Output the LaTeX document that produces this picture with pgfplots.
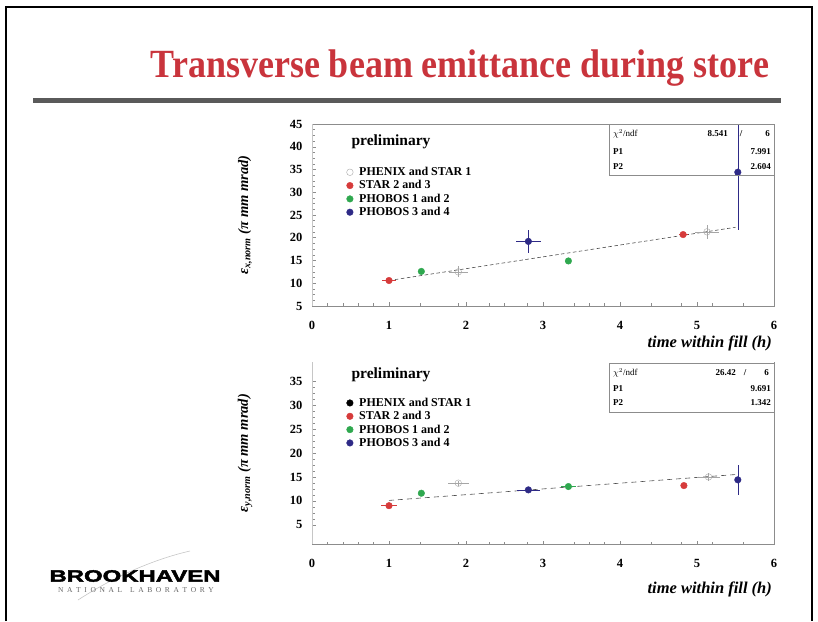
\documentclass[border=0pt]{standalone}
\usepackage{fontspec}
\setmainfont{Liberation Serif}
\newfontfamily\logofont[FakeBold=2.2]{Liberation Sans}
\usepackage{pgfplots}
\pgfplotsset{compat=1.18}

\definecolor{titlered}{HTML}{C9343C}
\definecolor{ptred}{HTML}{D63B3B}
\definecolor{ptgreen}{HTML}{2FA84F}
\definecolor{ptblue}{HTML}{2E2A86}
\definecolor{rulegray}{HTML}{5A5A5A}
\definecolor{framegray}{HTML}{8C8C8C}

\pgfplotsset{
  emitt/.style={
    scale only axis, width=462pt, height=182pt,
    xmin=0, xmax=6,
    xtick={0,...,6},
    minor xtick={0.2,0.4,0.6,0.8,1.4,1.9,2.3,2.5,2.8,3.4,3.6,3.8,4.4,4.8,5.2,5.6},
    minor y tick num=3,
    axis line style={draw=none},
    tick pos=left,
    tick align=inside,
    major tick length=3.5pt, minor tick length=2.5pt,
    tick style={framegray, line width=0.5pt},
    /pgf/number format/assume math mode=true,
    ticklabel style={font=\bfseries\fontsize{12.5}{12.5}\selectfont},
    xticklabel style={yshift=-12pt},
    yticklabel style={xshift=-6pt},
    xlabel={\bfseries\itshape time within fill (h)},
    xlabel style={font=\fontsize{16.5}{16.5}\selectfont, anchor=east},
    ylabel style={font=\fontsize{14.5}{14.5}\selectfont,
      at={(axis description cs:-0.145,0.5)}, anchor=center},
    legend cell align=left,
    legend style={draw=none, fill=none, anchor=north west,
      font=\bfseries\fontsize{12}{13.5}\selectfont, row sep=-0.5pt,
      /tikz/every odd column/.append style={column sep=4pt}},
  },
  errpts/.style={
    only marks, mark=*, mark size=3.3pt, color=#1,
    mark options={fill=#1, draw=#1},
    error bars/x dir=both, error bars/x explicit,
    error bars/y dir=both, error bars/y explicit,
    error bars/error mark=none,
    error bars/error bar style={#1, line width=0.6pt},
  },
  fitline/.style={dash pattern=on 3.5pt off 2.5pt, black!70, line width=0.6pt, forget plot},
}

\begin{document}
\begin{tikzpicture}[x=1pt,y=1pt]
\useasboundingbox (0,0) rectangle (818,621);

% slide frame, title and rule
\draw[black, line width=1.5pt] (6,0) -- (6,614) -- (812,614) -- (812,0);
\node[text=titlered, font=\bfseries\fontsize{40}{40}\selectfont, xscale=0.9]
  at (460,553) {Transverse beam emittance during store};
\draw[rulegray, line width=5pt] (33,520) -- (781,520);

% ---------------- horizontal emittance ----------------
\begin{axis}[emitt, name=top, at={(312pt,315pt)}, anchor=south west,
  ymin=5, ymax=45, ytick={5,10,...,45},
  ylabel={\bfseries\itshape ε\textsubscript{x,norm} (π mm mrad)},
  xlabel style={at={(axis description cs:1.003,-0.205)}},
  legend style={at={(axis description cs:0.068,0.785)}}]
\addplot[fitline] coordinates {(1.0,10.6) (5.5,22.3)};
\addplot[errpts=gray!70, mark=o, mark options={draw=gray!70, fill=white}]
  table[x=x, y=y, x error=ex, y error=ey] {
x    y    ex   ey
1.90 12.5 0.12 1.2
5.13 21.3 0.15 1.5
};
\addlegendentry{PHENIX and STAR 1}
\addplot[errpts=ptred] table[x=x, y=y, x error=ex, y error=ey] {
x    y    ex   ey
1.00 10.6 0.09 0.3
4.82 20.7 0.06 0.4
};
\addlegendentry{STAR 2 and 3}
\addplot[errpts=ptgreen] table[x=x, y=y, x error=ex, y error=ey] {
x    y    ex   ey
1.42 12.6 0.04 0.6
3.33 14.9 0.04 0.6
};
\addlegendentry{PHOBOS 1 and 2}
\addplot[errpts=ptblue] table[x=x, y=y, x error=ex, y error=ey] {
x    y    ex   ey
2.81 19.2 0.16 2.6
5.53 34.4 0.04 12.6
};
\addlegendentry{PHOBOS 3 and 4}
\end{axis}
\draw[framegray, line width=0.8pt] (top.south west) -- (top.south east) -- (top.north east) -- (top.north west);
\draw[framegray!50, line width=0.5pt] (top.south west) -- (top.north west);

% ---------------- vertical emittance ----------------
\begin{axis}[emitt, name=bot, at={(312pt,77pt)}, anchor=south west,
  ymin=1, ymax=39, ytick={5,10,...,35},
  ylabel={\bfseries\itshape ε\textsubscript{y,norm} (π mm mrad)},
  xlabel style={at={(axis description cs:1.003,-0.25)}},
  legend style={at={(axis description cs:0.068,0.825)}}]
\addplot[fitline, dash pattern=on 5pt off 4pt] coordinates
  {(1.0,10.1) (2.0,11.3) (3.0,12.5) (4.0,13.7) (5.0,14.9) (5.5,15.5)};
\addlegendimage{only marks, mark=*, mark size=3.3pt, black}
\addlegendentry{PHENIX and STAR 1}
\addplot[errpts=gray!70, mark=o, mark options={draw=gray!70, fill=white}, forget plot]
  table[x=x, y=y, x error=ex, y error=ey] {
x    y    ex   ey
1.90 13.7 0.14 0.5
5.15 15.0 0.15 0.8
};
\addplot[errpts=ptred] table[x=x, y=y, x error=ex, y error=ey] {
x    y    ex   ey
1.00 9.0  0.10 0.3
4.83 13.2 0.03 0.6
};
\addlegendentry{STAR 2 and 3}
\addplot[errpts=ptgreen] table[x=x, y=y, x error=ex, y error=ey] {
x    y    ex   ey
1.42 11.6 0.03 0.6
3.33 13.0 0.10 0.4
};
\addlegendentry{PHOBOS 1 and 2}
\addplot[errpts=ptblue] table[x=x, y=y, x error=ex, y error=ey] {
x    y    ex   ey
2.81 12.3 0.15 0.4
5.53 14.4 0.04 3.1
};
\addlegendentry{PHOBOS 3 and 4}
\end{axis}
\draw[framegray, line width=0.8pt] (bot.south west) -- (bot.south east) -- (bot.north east);
\draw[framegray!50, line width=0.5pt] (bot.south west) -- (bot.north west);

% "preliminary" tags
\node[font=\bfseries\fontsize{15.5}{15.5}\selectfont] at (391,479) {preliminary};
\node[font=\bfseries\fontsize{15.5}{15.5}\selectfont] at (391,246) {preliminary};

% fit statistics boxes
\draw[framegray, line width=0.8pt] (609,446) rectangle (774,497);
\begin{scope}[every node/.style={font=\bfseries\fontsize{9}{9}\selectfont, inner sep=0pt}]
\node[anchor=west, font=\fontsize{9}{9}\selectfont] at (613,487) {$\chi^2$/ndf};
\node[anchor=east] at (728,487) {8.541};
\node at (741,487) {/};
\node[anchor=east] at (770,487) {6};
\node[anchor=west] at (613,469) {P1};
\node[anchor=east] at (771,469) {7.991};
\node[anchor=west] at (613,454) {P2};
\node[anchor=east] at (771,454) {2.604};
\end{scope}
\draw[framegray, line width=0.8pt] (609,209) rectangle (774,258);
\begin{scope}[every node/.style={font=\bfseries\fontsize{9}{9}\selectfont, inner sep=0pt}]
\node[anchor=west, font=\fontsize{9}{9}\selectfont] at (613,248) {$\chi^2$/ndf};
\node[anchor=east] at (736,248) {26.42};
\node at (745,248) {/};
\node[anchor=east] at (769,248) {6};
\node[anchor=west] at (613,232) {P1};
\node[anchor=east] at (771,232) {9.691};
\node[anchor=west] at (613,218) {P2};
\node[anchor=east] at (771,218) {1.342};
\end{scope}

% laboratory logo
\draw[gray!45, line width=0.6pt] (78,21) .. controls (115,45) and (155,62) .. (190,70);
\node[font=\logofont\bfseries\fontsize{16.5}{16.5}\selectfont, xscale=1.45] at (135,45) {BROOKHAVEN};
\node[font=\fontsize{7.5}{7.5}\selectfont, text=black!60] at (136,31)
  {N\kern3.6pt A\kern3.6pt T\kern3.6pt I\kern3.6pt O\kern3.6pt N\kern3.6pt A\kern3.6pt L\kern8pt
   L\kern3.6pt A\kern3.6pt B\kern3.6pt O\kern3.6pt R\kern3.6pt A\kern3.6pt T\kern3.6pt O\kern3.6pt R\kern3.6pt Y};
\end{tikzpicture}
\end{document}
